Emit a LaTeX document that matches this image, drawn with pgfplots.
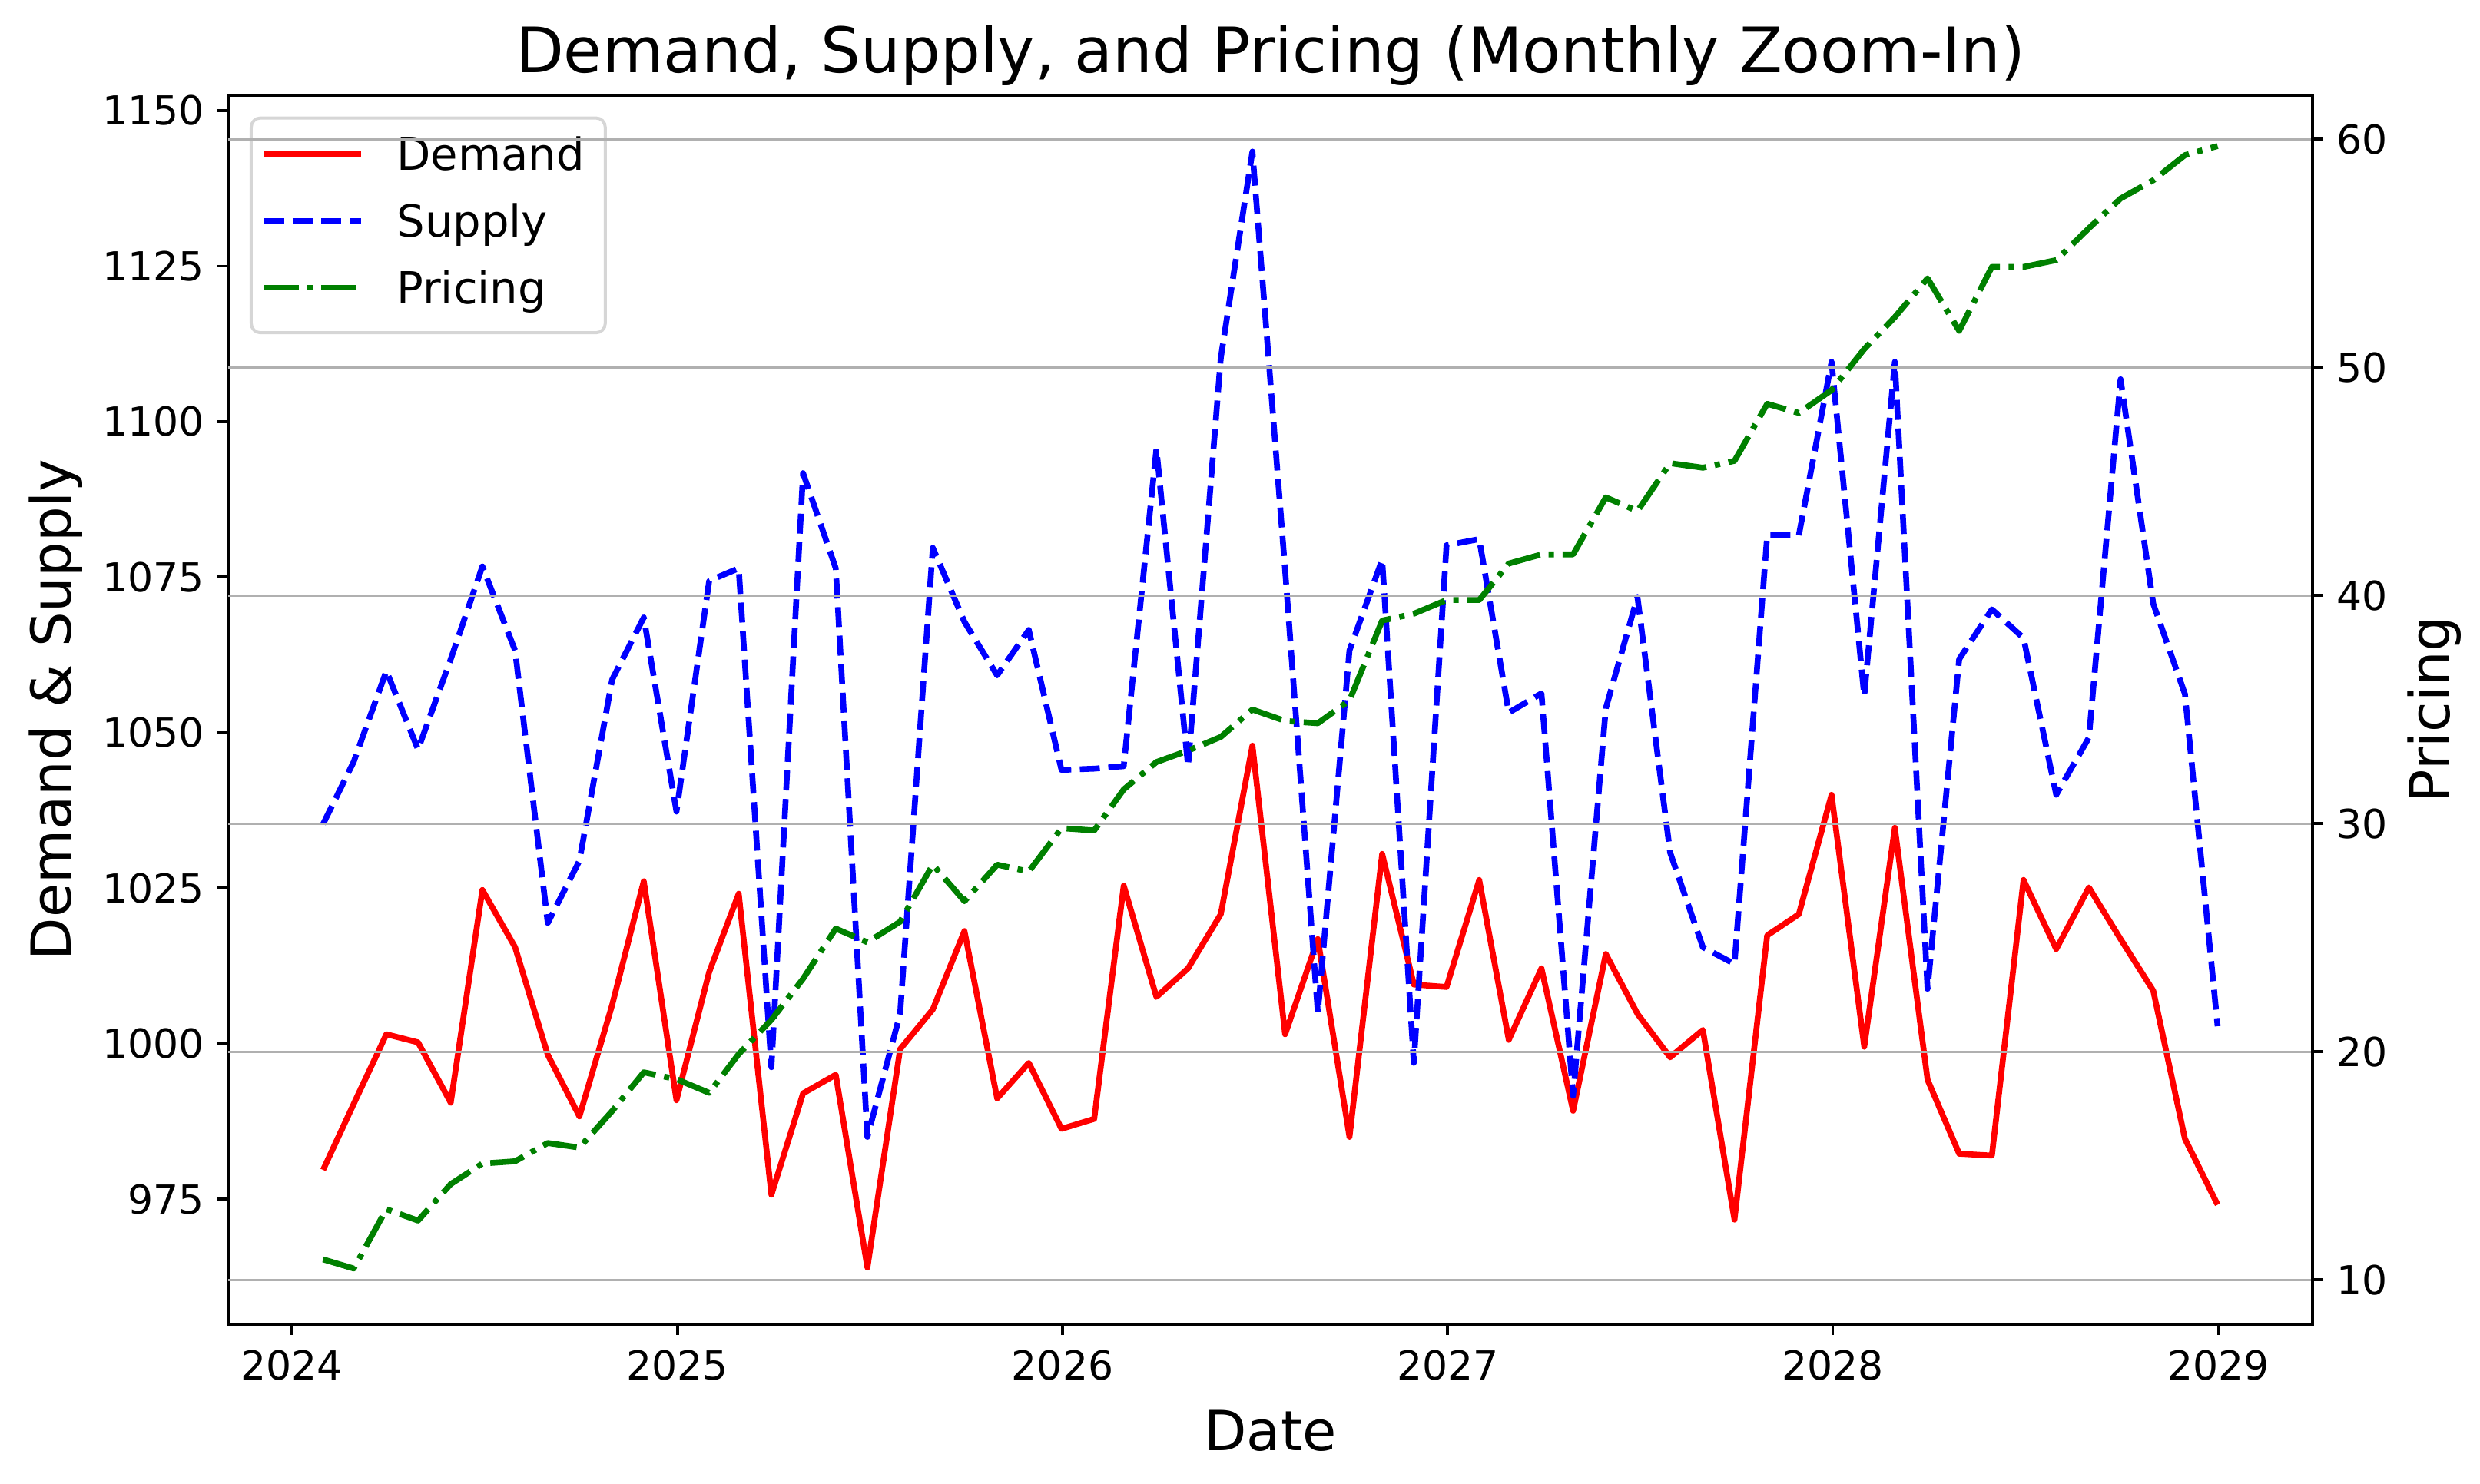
\documentclass[border=0pt]{standalone}
\usepackage{fontspec}
\setmainfont{DejaVu Sans}
\usepackage{pgfplots}
\pgfplotsset{compat=1.18}
\usepackage{pgfplotstable}
\usepgfplotslibrary{dateplot}

\definecolor{mplred}{RGB}{255,0,0}
\definecolor{mplblue}{RGB}{0,0,255}
\definecolor{mplgreen}{RGB}{0,128,0}
\definecolor{gridgray}{HTML}{B0B0B0}
\definecolor{legframe}{HTML}{D6D6D6}

% monthly values
\pgfplotstableread{
date demand supply pricing
2024-01-31 979.7 1035.3 10.9
2024-02-29 990.3 1045.3 10.5
2024-03-31 1001.5 1059.9 13.1
2024-04-30 1000.2 1047.3 12.6
2024-05-31 990.5 1061.8 14.2
2024-06-30 1024.7 1076.7 15.1
2024-07-31 1015.5 1063.2 15.2
2024-08-31 998.2 1019.4 16.0
2024-09-30 988.3 1029.4 15.8
2024-10-31 1006.2 1058.5 17.4
2024-11-30 1026.1 1068.5 19.1
2024-12-31 990.9 1037.3 18.8
2025-01-31 1011.5 1074.4 18.2
2025-02-28 1024.1 1076.4 19.9
2025-03-31 975.7 996.2 21.4
2025-04-30 992.0 1091.7 23.2
2025-05-31 995.0 1076.4 25.4
2025-06-30 964.0 985.0 24.8
2025-07-31 999.1 1004.8 25.7
2025-08-31 1005.5 1079.7 28.2
2025-09-30 1018.1 1067.8 26.6
2025-10-31 991.2 1059.2 28.2
2025-11-30 996.9 1066.5 27.9
2025-12-31 986.3 1044.0 29.8
2026-01-31 987.9 1044.2 29.7
2026-02-28 1025.4 1044.6 31.5
2026-03-31 1007.5 1095.6 32.7
2026-04-30 1012.1 1044.6 33.2
2026-05-31 1020.8 1110.2 33.8
2026-06-30 1047.9 1143.4 35.0
2026-07-31 1001.5 1076.1 34.5
2026-08-31 1016.8 1005.0 34.4
2026-09-30 985.0 1063.2 35.4
2026-10-31 1030.5 1077.8 38.9
2026-11-30 1009.5 996.9 39.2
2026-12-31 1009.1 1080.1 39.8
2027-01-31 1026.3 1081.1 39.8
2027-02-28 1000.6 1053.2 41.4
2027-03-31 1012.1 1056.3 41.8
2027-04-30 989.2 991.6 41.8
2027-05-31 1014.4 1053.9 44.3
2027-06-30 1004.8 1071.8 43.7
2027-07-31 997.8 1030.7 45.8
2027-08-31 1002.2 1015.5 45.6
2027-09-30 971.7 1012.8 45.9
2027-10-31 1017.4 1081.7 48.4
2027-11-30 1020.8 1081.7 48.0
2027-12-31 1040.0 1109.6 49.0
2028-01-31 999.5 1055.9 50.8
2028-02-29 1034.7 1109.6 52.2
2028-03-31 994.2 1008.8 53.9
2028-04-30 982.3 1061.8 51.6
2028-05-31 982.0 1069.8 54.4
2028-06-30 1026.3 1065.2 54.4
2028-07-31 1015.2 1040.0 54.7
2028-08-31 1025.1 1049.2 56.1
2028-09-30 1016.8 1106.8 57.4
2028-10-31 1008.5 1070.7 58.2
2028-11-30 984.7 1056.2 59.3
2028-12-31 974.1 1002.8 59.7
}\monthly

\pgfplotsset{
  demandline/.style={mplred, line width=1.9pt, line join=round},
  supplyline/.style={mplblue, line width=1.9pt, line join=round, dash pattern=on 6.5pt off 2.8pt},
  pricingline/.style={mplgreen, line width=1.9pt, line join=round, dash pattern=on 11.2pt off 2.8pt on 1.75pt off 2.8pt},
  common/.style={
    scale only axis, width=678.3pt, height=400.1pt,
    date coordinates in=x, date ZERO=2024-01-01,
    xmin=2023-11-02, xmax=2029-03-31,
    tick align=outside, major tick length=3.5pt,
    every tick/.style={black, line width=0.9pt},
    axis line style={line width=1pt},
    tick label style={font=\fontsize{13}{15.6}\selectfont},
    /pgf/number format/1000 sep={},
    /pgf/number format/assume math mode=true,
    label style={font=\fontsize{18}{21.6}\selectfont},
  },
}

\begin{document}
\begin{tikzpicture}
\begin{axis}[
  common,
  ymin=954.9, ymax=1152.5,
  xtick={2024-01-01,2025-01-01,2026-01-01,2027-01-01,2028-01-01,2029-01-01},
  xticklabel=\year,
  ytick={975,1000,...,1150},
  xtick pos=left, ytick pos=left,
  xticklabel style={yshift=-1.4pt},
  yticklabel style={xshift=-0.7pt},
  every axis title/.style={at={(axis description cs:0.5,1)}, anchor=base, yshift=7.15pt, font=\fontsize{20.4}{24}\selectfont},
  title={Demand, Supply, and Pricing (Monthly Zoom-In)},
  every axis x label/.style={at={(axis description cs:0.5,0)}, anchor=base, yshift=-41.25pt, font=\fontsize{18}{21.6}\selectfont},
  xlabel={Date},
  every axis y label/.style={at={(axis description cs:-0.0752,0.5)}, rotate=90, anchor=base, font=\fontsize{18}{21.6}\selectfont},
  ylabel={Demand \& Supply},
  legend image code/.code={\draw[#1] (0pt,5.2pt) -- (31.5pt,5.2pt);},
  legend style={at={(axis description cs:0,1)}, anchor=north west, xshift=7pt, yshift=-7pt,
    draw=legframe, line width=1pt, rounded corners=3pt, fill=white, fill opacity=0.8,
    text opacity=1, draw opacity=1, inner xsep=3.25pt, inner ysep=6pt, row sep=7.2pt,
    font=\fontsize{14.4}{17}\selectfont,
    cells={anchor=base west},
    nodes={inner sep=0pt, text height=11pt, text depth=3.5pt},
    /tikz/every odd column/.append style={column sep=10.75pt}},
]
\addplot[demandline] table[x=date, y=demand] {\monthly};
\addplot[supplyline] table[x=date, y=supply] {\monthly};
\addlegendimage{pricingline}
\legend{Demand\hspace*{3.5pt}, Supply, Pricing}
\end{axis}
\begin{axis}[
  common,
  axis x line=none, axis y line*=right,
  ymin=8.06, ymax=61.94,
  ytick={10,20,...,60},
  yticklabel style={xshift=0.9pt},
  ymajorgrids, grid style={gridgray, line width=0.8pt},
  every axis y label/.style={at={(axis description cs:1.0656,0.5)}, rotate=90, anchor=base, font=\fontsize{18}{21.6}\selectfont},
  ylabel={Pricing},
]
\addplot[pricingline] table[x=date, y=pricing] {\monthly};
\end{axis}
\pgfresetboundingbox
\useasboundingbox (-74.25pt,-52pt) rectangle (732.8pt,431pt);
\end{tikzpicture}
\end{document}
